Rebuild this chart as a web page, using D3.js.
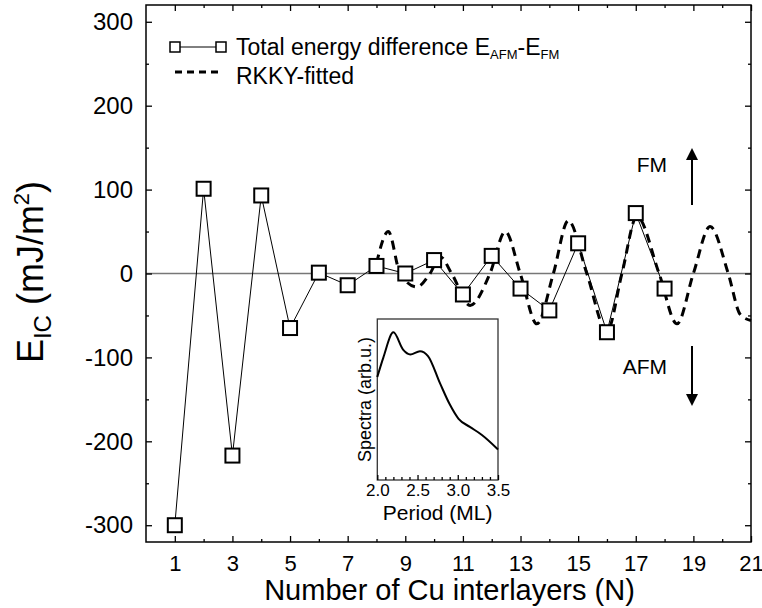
<!DOCTYPE html>
<html>
<head>
<meta charset="utf-8">
<script src="https://cdn.jsdelivr.net/npm/d3@7"></script>
<style>
  body { margin: 0; background: #fff; }
  svg { font-family: "Liberation Sans", Arial, sans-serif; }
</style>
</head>
<body>
<svg width="762" height="608"></svg>
<script>
// total energy difference E_AFM - E_FM per number of Cu layers
const layers = [1, 2, 3, 4, 5, 6, 7, 8, 9, 10, 11, 12, 13, 14, 15, 16, 17, 18];
const energy = [-300, 101, -217, 93, -65, 1, -14, 9, 0, 16, -25, 21, -18, -44, 36, -70, 72, -18];

// RKKY fitted curve
const fitN = [8.0, 8.41, 8.82, 9.4, 9.86, 10.21, 10.61, 11.25, 11.94, 12.47, 12.99, 13.57, 14.14, 14.66, 15.3, 16.0, 16.52, 17.04, 17.81, 18.43, 19.0, 19.58, 20.21, 20.63, 21.0];
const fitE = [12, 50, 0, -16, 0, 20, 0, -38, 0, 50, 0, -60, 0, 63, 0, -69, 0, 68, 0, -60, 0, 56, 0, -49, -56];

// inset spectrum
const period = [2.0, 2.075, 2.2, 2.32, 2.41, 2.53, 2.63, 2.78, 2.9, 3.01, 3.15, 3.3, 3.5];
const spectra = [0.64, 0.76, 0.917, 0.81, 0.78, 0.8, 0.77, 0.6, 0.47, 0.38, 0.33, 0.28, 0.19];

const yMajor = [-300, -200, -100, 0, 100, 200, 300];
const yMinor = [-250, -150, -50, 50, 150, 250];
const xMajor = [1, 3, 5, 7, 9, 11, 13, 15, 17, 19, 21];
const xMinor = [2, 4, 6, 8, 10, 12, 14, 16, 18, 20];
const insetMajor = [2.0, 2.5, 3.0, 3.5];
const insetMinor = [2.1, 2.2, 2.3, 2.4, 2.6, 2.7, 2.8, 2.9, 3.1, 3.2, 3.3, 3.4];

const svg = d3.select("svg");
const pLeft = 146, pRight = 751, pTop = 5, pBottom = 542;

const x = d3.scaleLinear([0, 21], [pLeft, pRight]);
const y = d3.scaleLinear([-320, 320], [pBottom, pTop]);

// zero line
svg.append("line")
  .attr("x1", pLeft).attr("x2", pRight)
  .attr("y1", y(0)).attr("y2", y(0))
  .attr("stroke", "#777").attr("stroke-width", 1.5);

function styleAxis(g, size) {
  g.select(".domain").remove();
  g.selectAll(".tick line").attr("stroke", "#000").attr("stroke-width", 1.3);
  g.selectAll(".tick text").attr("font-size", size).attr("fill", "#000").attr("font-family", null);
}

const plain = d => String(d);

svg.append("g").attr("transform", `translate(${pLeft},0)`)
  .call(d3.axisLeft(y).tickValues(yMajor).tickSize(-6).tickPadding(13).tickFormat(plain))
  .call(g => styleAxis(g, 24));
svg.append("g").attr("transform", `translate(${pLeft},0)`)
  .call(d3.axisLeft(y).tickValues(yMinor).tickSize(-3).tickFormat(""))
  .call(g => styleAxis(g, 24));
svg.append("g").attr("transform", `translate(${pRight},0)`)
  .call(d3.axisRight(y).tickValues(yMajor).tickSize(-6).tickFormat(""))
  .call(g => styleAxis(g, 24));
svg.append("g").attr("transform", `translate(${pRight},0)`)
  .call(d3.axisRight(y).tickValues(yMinor).tickSize(-3).tickFormat(""))
  .call(g => styleAxis(g, 24));

svg.append("g").attr("transform", `translate(0,${pBottom})`)
  .call(d3.axisBottom(x).tickValues(xMajor).tickSize(-6).tickPadding(13).tickFormat(plain))
  .call(g => styleAxis(g, 22));
svg.append("g").attr("transform", `translate(0,${pBottom})`)
  .call(d3.axisBottom(x).tickValues(xMinor).tickSize(-3).tickFormat(""))
  .call(g => styleAxis(g, 22));
svg.append("g").attr("transform", `translate(0,${pTop})`)
  .call(d3.axisTop(x).tickValues(xMajor).tickSize(-6).tickFormat(""))
  .call(g => styleAxis(g, 22));
svg.append("g").attr("transform", `translate(0,${pTop})`)
  .call(d3.axisTop(x).tickValues(xMinor).tickSize(-3).tickFormat(""))
  .call(g => styleAxis(g, 22));

svg.append("rect")
  .attr("x", pLeft).attr("y", pTop)
  .attr("width", pRight - pLeft).attr("height", pBottom - pTop)
  .attr("fill", "none").attr("stroke", "#000").attr("stroke-width", 1.5);

// fitted curve
const fit = fitN.map((n, i) => [n, fitE[i]]);
svg.append("path")
  .datum(fit)
  .attr("fill", "none")
  .attr("stroke", "#000")
  .attr("stroke-width", 3)
  .attr("stroke-dasharray", "9,6")
  .attr("d", d3.line().x(d => x(d[0])).y(d => y(d[1])).curve(d3.curveMonotoneX));

// data
const pts = layers.map((n, i) => [n, energy[i]]);
svg.append("path")
  .datum(pts)
  .attr("fill", "none")
  .attr("stroke", "#000")
  .attr("stroke-width", 1)
  .attr("d", d3.line().x(d => x(d[0])).y(d => y(d[1])));

svg.append("g").selectAll("rect")
  .data(pts)
  .join("rect")
    .attr("x", d => x(d[0]) - 7)
    .attr("y", d => y(d[1]) - 7)
    .attr("width", 14).attr("height", 14)
    .attr("fill", "#fff")
    .attr("stroke", "#000")
    .attr("stroke-width", 2);

// axis titles
svg.append("text")
  .attr("x", (pLeft + pRight) / 2 + 1).attr("y", 600)
  .attr("text-anchor", "middle")
  .attr("font-size", 29)
  .text("Number of Cu interlayers (N)");

const yt = svg.append("text")
  .attr("transform", "translate(43,272) rotate(-90)")
  .attr("text-anchor", "middle")
  .attr("font-size", 36);
yt.append("tspan").text("E");
yt.append("tspan").attr("font-size", 24).attr("dy", 8).text("IC");
yt.append("tspan").attr("dy", -8).text(" (mJ/m");
yt.append("tspan").attr("font-size", 22).attr("dy", -14).text("2");
yt.append("tspan").attr("dy", 14).text(")");

// legend
const lg = svg.append("g");
lg.append("line").attr("x1", 175).attr("x2", 221).attr("y1", 47).attr("y2", 47)
  .attr("stroke", "#000").attr("stroke-width", 1);
lg.selectAll("rect").data([175, 221]).join("rect")
  .attr("x", d => d - 5).attr("y", 42)
  .attr("width", 10).attr("height", 10)
  .attr("fill", "#fff").attr("stroke", "#000").attr("stroke-width", 1.5);
const lt = lg.append("text").attr("x", 236).attr("y", 55).attr("font-size", 23);
lt.append("tspan").text("Total energy difference E");
lt.append("tspan").attr("font-size", 13).attr("dy", 4).text("AFM");
lt.append("tspan").attr("dy", -4).text("-E");
lt.append("tspan").attr("font-size", 13).attr("dy", 4).text("FM");
lg.append("line").attr("x1", 175).attr("x2", 219).attr("y1", 72).attr("y2", 72)
  .attr("stroke", "#000").attr("stroke-width", 3).attr("stroke-dasharray", "7,5");
lg.append("text").attr("x", 236).attr("y", 84).attr("font-size", 23).text("RKKY-fitted");

// FM / AFM labels and arrows
svg.append("defs").append("marker")
  .attr("id", "head")
  .attr("viewBox", "0 0 10 10")
  .attr("refX", 5).attr("refY", 5)
  .attr("markerWidth", 6).attr("markerHeight", 6)
  .attr("markerUnits", "strokeWidth")
  .attr("orient", "auto")
  .append("path").attr("d", "M0,0L10,5L0,10z").attr("fill", "#000");

svg.append("text").attr("x", 667).attr("y", 172).attr("text-anchor", "end")
  .attr("font-size", 21).text("FM");
svg.append("line").attr("x1", 692).attr("x2", 692).attr("y1", 205).attr("y2", 154)
  .attr("stroke", "#000").attr("stroke-width", 2).attr("marker-end", "url(#head)");
svg.append("text").attr("x", 667).attr("y", 374).attr("text-anchor", "end")
  .attr("font-size", 21).text("AFM");
svg.append("line").attr("x1", 692).attr("x2", 692).attr("y1", 346).attr("y2", 400)
  .attr("stroke", "#000").attr("stroke-width", 2).attr("marker-end", "url(#head)");

// inset
const il = 377.3, ir = 498, itop = 319, ibot = 480;
const ix = d3.scaleLinear([2.0, 3.5], [il, ir]);
const iy = d3.scaleLinear([0, 1], [ibot, itop]);
const inset = svg.append("g");
inset.append("rect")
  .attr("x", il).attr("y", itop)
  .attr("width", ir - il).attr("height", ibot - itop)
  .attr("fill", "#fff").attr("stroke", "#333").attr("stroke-width", 1.3);
inset.append("g").attr("transform", `translate(0,${ibot})`)
  .call(d3.axisBottom(ix).tickValues(insetMajor).tickSize(-5).tickPadding(4).tickFormat(d3.format(".1f")))
  .call(g => styleAxis(g, 17));
inset.append("g").attr("transform", `translate(0,${ibot})`)
  .call(d3.axisBottom(ix).tickValues(insetMinor).tickSize(-3).tickFormat(""))
  .call(g => styleAxis(g, 17));
inset.append("path")
  .datum(period.map((p, i) => [p, spectra[i]]))
  .attr("fill", "none").attr("stroke", "#000").attr("stroke-width", 2)
  .attr("d", d3.line().x(d => ix(d[0])).y(d => iy(d[1])).curve(d3.curveMonotoneX));
inset.append("text")
  .attr("x", (il + ir) / 2).attr("y", 520)
  .attr("text-anchor", "middle").attr("font-size", 21)
  .text("Period (ML)");
inset.append("text")
  .attr("transform", `translate(371,${(itop + ibot) / 2}) rotate(-90)`)
  .attr("text-anchor", "middle").attr("font-size", 18)
  .text("Spectra (arb.u.)");
</script>
</body>
</html>
